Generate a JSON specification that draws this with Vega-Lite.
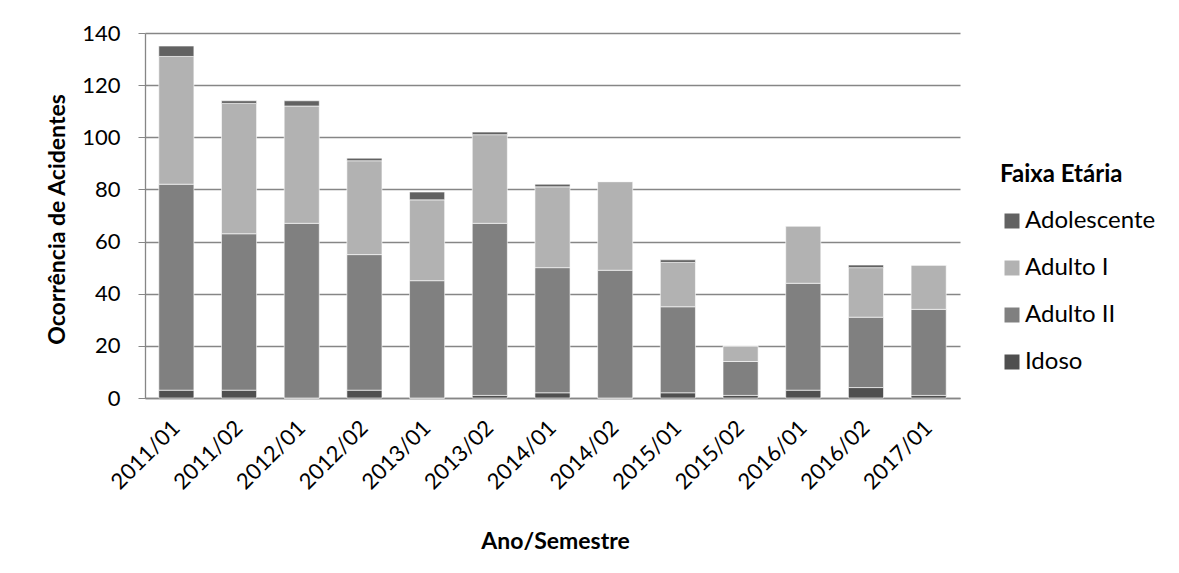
{
  "$schema": "https://vega.github.io/schema/vega-lite/v6.json",
  "width": 815,
  "height": 365,
  "autosize": {"type": "none"},
  "padding": {"left": 145, "top": 33, "right": 219, "bottom": 175},
  "background": "white",
  "config": {
    "font": "Lato",
    "view": {"stroke": null},
    "axis": {
      "labelFont": "Lato",
      "titleFont": "Lato",
      "labelColor": "black",
      "titleColor": "black",
      "labelFontSize": 22,
      "titleFontSize": 23,
      "titleFontWeight": "bold",
      "domainColor": "#868686",
      "tickColor": "#868686",
      "gridColor": "#868686",
      "gridWidth": 1.3,
      "domainWidth": 1.3
    },
    "legend": {
      "labelFont": "Lato",
      "titleFont": "Lato"
    }
  },
  "data": {
    "values": [
      {"periodo": "2011/01", "faixa": "Idoso", "n": 3},
      {"periodo": "2011/01", "faixa": "Adulto II", "n": 79},
      {"periodo": "2011/01", "faixa": "Adulto I", "n": 49},
      {"periodo": "2011/01", "faixa": "Adolescente", "n": 4},
      {"periodo": "2011/02", "faixa": "Idoso", "n": 3},
      {"periodo": "2011/02", "faixa": "Adulto II", "n": 60},
      {"periodo": "2011/02", "faixa": "Adulto I", "n": 50},
      {"periodo": "2011/02", "faixa": "Adolescente", "n": 1},
      {"periodo": "2012/01", "faixa": "Idoso", "n": 0},
      {"periodo": "2012/01", "faixa": "Adulto II", "n": 67},
      {"periodo": "2012/01", "faixa": "Adulto I", "n": 45},
      {"periodo": "2012/01", "faixa": "Adolescente", "n": 2},
      {"periodo": "2012/02", "faixa": "Idoso", "n": 3},
      {"periodo": "2012/02", "faixa": "Adulto II", "n": 52},
      {"periodo": "2012/02", "faixa": "Adulto I", "n": 36},
      {"periodo": "2012/02", "faixa": "Adolescente", "n": 1},
      {"periodo": "2013/01", "faixa": "Idoso", "n": 0},
      {"periodo": "2013/01", "faixa": "Adulto II", "n": 45},
      {"periodo": "2013/01", "faixa": "Adulto I", "n": 31},
      {"periodo": "2013/01", "faixa": "Adolescente", "n": 3},
      {"periodo": "2013/02", "faixa": "Idoso", "n": 1},
      {"periodo": "2013/02", "faixa": "Adulto II", "n": 66},
      {"periodo": "2013/02", "faixa": "Adulto I", "n": 34},
      {"periodo": "2013/02", "faixa": "Adolescente", "n": 1},
      {"periodo": "2014/01", "faixa": "Idoso", "n": 2},
      {"periodo": "2014/01", "faixa": "Adulto II", "n": 48},
      {"periodo": "2014/01", "faixa": "Adulto I", "n": 31},
      {"periodo": "2014/01", "faixa": "Adolescente", "n": 1},
      {"periodo": "2014/02", "faixa": "Idoso", "n": 0},
      {"periodo": "2014/02", "faixa": "Adulto II", "n": 49},
      {"periodo": "2014/02", "faixa": "Adulto I", "n": 34},
      {"periodo": "2014/02", "faixa": "Adolescente", "n": 0},
      {"periodo": "2015/01", "faixa": "Idoso", "n": 2},
      {"periodo": "2015/01", "faixa": "Adulto II", "n": 33},
      {"periodo": "2015/01", "faixa": "Adulto I", "n": 17},
      {"periodo": "2015/01", "faixa": "Adolescente", "n": 1},
      {"periodo": "2015/02", "faixa": "Idoso", "n": 1},
      {"periodo": "2015/02", "faixa": "Adulto II", "n": 13},
      {"periodo": "2015/02", "faixa": "Adulto I", "n": 6},
      {"periodo": "2015/02", "faixa": "Adolescente", "n": 0},
      {"periodo": "2016/01", "faixa": "Idoso", "n": 3},
      {"periodo": "2016/01", "faixa": "Adulto II", "n": 41},
      {"periodo": "2016/01", "faixa": "Adulto I", "n": 22},
      {"periodo": "2016/01", "faixa": "Adolescente", "n": 0},
      {"periodo": "2016/02", "faixa": "Idoso", "n": 4},
      {"periodo": "2016/02", "faixa": "Adulto II", "n": 27},
      {"periodo": "2016/02", "faixa": "Adulto I", "n": 19},
      {"periodo": "2016/02", "faixa": "Adolescente", "n": 1},
      {"periodo": "2017/01", "faixa": "Idoso", "n": 1},
      {"periodo": "2017/01", "faixa": "Adulto II", "n": 33},
      {"periodo": "2017/01", "faixa": "Adulto I", "n": 17},
      {"periodo": "2017/01", "faixa": "Adolescente", "n": 0}
    ]
  },
  "mark": {"type": "bar", "stroke": "white", "strokeWidth": 0.6},
  "encoding": {
    "x": {
      "field": "periodo",
      "type": "ordinal",
      "scale": {"paddingInner": 0.44, "paddingOuter": 0.22},
      "axis": {
        "title": "Ano/Semestre",
        "labelAngle": -45,
        "labelAlign": "right",
        "labelBaseline": "middle",
        "labelPadding": 26,
        "labelOffset": 0,
        "ticks": false,
        "titleX": 410,
        "titleY": 150,
        "titleAlign": "center",
        "titleBaseline": "alphabetic"
      }
    },
    "y": {
      "field": "n",
      "type": "quantitative",
      "stack": "zero",
      "scale": {"domain": [0, 140], "nice": false},
      "axis": {
        "title": "Ocorrência de Acidentes",
        "values": [0, 20, 40, 60, 80, 100, 120, 140],
        "tickSize": 7,
        "labelPadding": 18,
        "titleX": -81,
        "titleY": 186,
        "titleAngle": -90,
        "titleAlign": "center",
        "titleBaseline": "alphabetic"
      }
    },
    "color": {
      "field": "faixa",
      "type": "nominal",
      "scale": {
        "domain": ["Adolescente", "Adulto I", "Adulto II", "Idoso"],
        "range": ["#626262", "#b2b2b2", "#808080", "#4f4f4f"]
      },
      "legend": {
        "title": "Faixa Etária",
        "orient": "none",
        "legendX": 855,
        "legendY": 130,
        "titleFontSize": 24,
        "titleFontWeight": "bold",
        "titleColor": "black",
        "titlePadding": 22,
        "labelFontSize": 24,
        "labelColor": "black",
        "symbolType": "square",
        "symbolSize": 225,
        "symbolStrokeWidth": 0,
        "rowPadding": 23,
        "labelOffset": 1
      }
    },
    "order": {"field": "faixa", "sort": "descending"}
  }
}
